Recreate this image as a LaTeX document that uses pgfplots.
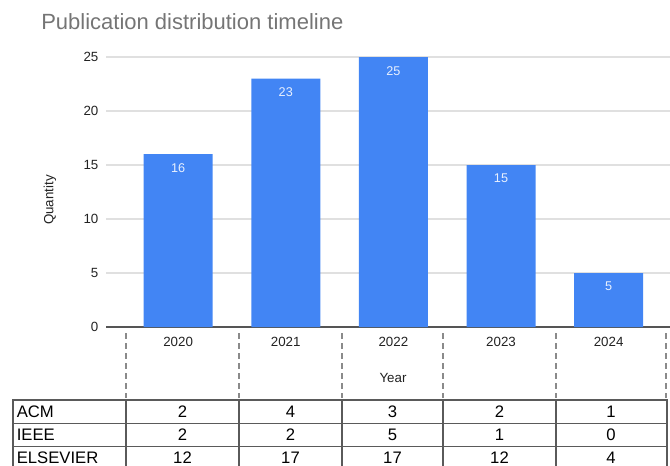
\documentclass[border=0pt]{standalone}
\usepackage{fontspec}
\setmainfont{Liberation Sans}
\usepackage{pgfplots}
\usepackage{pgfplotstable}
\pgfplotsset{compat=1.18}
\definecolor{barblue}{HTML}{4285F4}
\definecolor{titlegray}{HTML}{757575}
\definecolor{txt}{HTML}{222222}
\definecolor{gridc}{HTML}{E0E0E0}
\definecolor{basec}{HTML}{555555}
\definecolor{dashc}{HTML}{8A8A8A}
\definecolor{tabc}{HTML}{5A5A5A}
\definecolor{lblc}{HTML}{E8F0FE}

\pgfplotstableread{
x year total acm ieee elsevier
0 2020 16 2 2 12
1 2021 23 4 2 17
2 2022 25 3 5 17
3 2023 15 2 1 12
4 2024 5 1 0 4
}\data

\begin{document}
\begin{tikzpicture}
\path[use as bounding box] (0pt,0pt) rectangle (502.5pt,-348.75pt);
\begin{axis}[
  at={(79.5pt,-245.25pt)}, anchor=south west,
  scale only axis, width=423pt, height=202.5pt,
  xmin=-0.67, xmax=4.57, ymin=0, ymax=25,
  axis x line*=bottom, axis y line*=left,
  x axis line style={draw=basec, line width=0.9pt, -},
  y axis line style={draw=none},
  xtick=data, xticklabels from table={\data}{year},
  ytick={0,5,10,15,20,25},
  major tick length=0pt,
  xtick style={draw=none}, ytick style={draw=none},
  ymajorgrids, grid style={draw=gridc, line width=0.8pt},
  xticklabel style={anchor=north, inner sep=0pt, yshift=-7.7pt, font=\fontsize{10}{12}\selectfont, text=txt},
  yticklabel style={anchor=east, inner sep=0pt, xshift=-5.5pt, font=\fontsize{10}{12}\selectfont, text=txt},
  /pgf/number format/assume math mode=true,
  clip=false,
  axis on top=false,
]
\addplot[ybar, bar width=51.75pt, fill=barblue, draw=none,
  nodes near coords,
  nodes near coords style={anchor=north, inner sep=0pt, yshift=-6.75pt, text=lblc, font=\fontsize{9.5}{11}\selectfont, /pgf/number format/assume math mode=true},
] table[x=x, y=total] {\data};
\end{axis}
\begin{scope}[x=0.75pt, y=-0.75pt]
  % title
  \node[anchor=base west, inner sep=0pt, text=titlegray, font=\fontsize{16.5}{19}\selectfont] at (41,29.3) {Publication distribution timeline};
  % y label
  \node[rotate=90, inner sep=0pt, text=txt, font=\fontsize{10}{12}\selectfont] at (50,200) {Quantity};
  % x label
  \node[inner sep=0pt, text=txt, font=\fontsize{10}{12}\selectfont] at (393,378) {Year};
  % dashed separators
  \foreach \xx in {126,239,342,443,556,666}
    \draw[dashc, line width=0.8pt, dash pattern=on 4.5pt off 3pt] (\xx,333) -- (\xx,398);
  % table
  \draw[tabc, line width=0.9pt] (13,466) -- (13,400) -- (667,400) -- (667,466);
  \draw[tabc, line width=0.9pt] (13,423.5) -- (667,423.5);
  \draw[tabc, line width=0.9pt] (13,446.5) -- (667,446.5);
  \foreach \xx in {126,239,342,443,556}
    \draw[tabc, line width=0.9pt] (\xx,400) -- (\xx,466);
  \begin{scope}[every node/.style={inner sep=0pt, font=\fontsize{12.5}{14}\selectfont, text=black}]
  \node[anchor=base west] at (16.5,417.7) {ACM};
  \node[anchor=base west] at (16.5,440.6) {IEEE};
  \node[anchor=base west] at (16.5,463.5) {ELSEVIER};
  \foreach \cx/\a/\b/\c in {182.5/2/2/12, 290.5/4/2/17, 392.5/3/5/17, 499.5/2/1/12, 611/1/0/4} {
    \node[anchor=base] at (\cx,417.7) {\a};
    \node[anchor=base] at (\cx,440.6) {\b};
    \node[anchor=base] at (\cx,463.5) {\c};
  }
  \end{scope}
\end{scope}
\end{tikzpicture}
\end{document}
